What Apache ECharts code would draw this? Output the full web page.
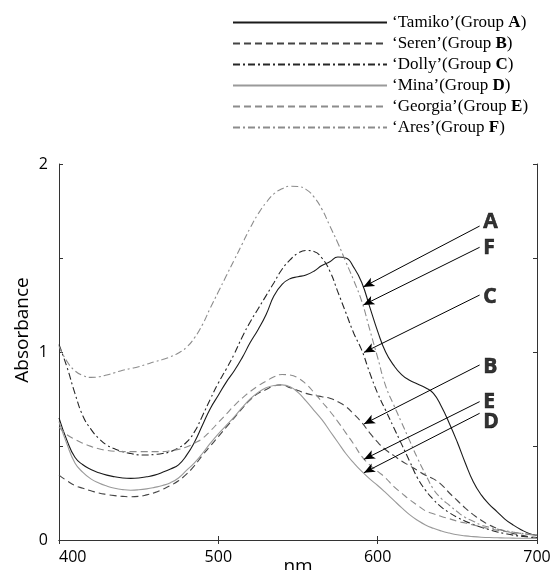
<!DOCTYPE html>
<html>
<head>
<meta charset="utf-8">
<script src="https://cdn.jsdelivr.net/npm/echarts@6/dist/echarts.min.js"></script>
<style>
html,body{margin:0;padding:0;background:#fff;}
#chart{width:553px;height:570px;}
</style>
</head>
<body>
<div id="chart"></div>
<script>
// ---- data ----
const wavelengths = [400,405,410,415,420,425,430,435,440,445,450,455,460,465,470,475,480,485,490,495,500,505,510,515,520,525,530,535,540,545,550,555,560,565,570,575,580,585,590,595,600,605,610,615,620,625,630,635,640,645,650,655,660,665,670,675,680,685,690,695,700];

const tamiko = [0.65,0.53,0.44,0.40,0.375,0.358,0.345,0.336,0.33,0.328,0.33,0.336,0.345,0.36,0.378,0.40,0.45,0.52,0.61,0.70,0.77,0.84,0.90,0.97,1.05,1.12,1.20,1.30,1.36,1.39,1.40,1.41,1.43,1.46,1.48,1.505,1.50,1.45,1.37,1.24,1.11,1.00,0.93,0.88,0.85,0.83,0.81,0.78,0.71,0.62,0.52,0.41,0.31,0.24,0.19,0.15,0.11,0.08,0.055,0.035,0.025];

const seren = [0.345,0.315,0.29,0.275,0.262,0.25,0.242,0.236,0.232,0.23,0.232,0.24,0.252,0.27,0.29,0.315,0.35,0.395,0.45,0.50,0.55,0.60,0.65,0.70,0.745,0.78,0.80,0.82,0.825,0.81,0.795,0.78,0.77,0.762,0.754,0.735,0.71,0.67,0.625,0.57,0.52,0.48,0.45,0.42,0.395,0.37,0.345,0.325,0.295,0.25,0.21,0.17,0.135,0.105,0.08,0.062,0.047,0.035,0.026,0.018,0.013];

const dolly = [1.04,0.92,0.78,0.66,0.59,0.54,0.505,0.485,0.47,0.46,0.453,0.452,0.455,0.46,0.47,0.49,0.52,0.575,0.66,0.75,0.835,0.91,0.99,1.08,1.16,1.23,1.30,1.37,1.44,1.49,1.525,1.54,1.535,1.50,1.43,1.32,1.21,1.10,1.01,0.89,0.78,0.69,0.60,0.51,0.42,0.33,0.265,0.215,0.175,0.145,0.12,0.10,0.083,0.068,0.055,0.043,0.034,0.026,0.02,0.015,0.012];

const mina = [0.63,0.51,0.41,0.36,0.325,0.303,0.287,0.275,0.268,0.265,0.267,0.272,0.28,0.29,0.305,0.33,0.37,0.41,0.46,0.515,0.565,0.61,0.655,0.705,0.75,0.785,0.81,0.822,0.825,0.815,0.785,0.74,0.69,0.64,0.58,0.52,0.46,0.41,0.365,0.325,0.29,0.252,0.212,0.172,0.135,0.105,0.08,0.062,0.048,0.037,0.028,0.022,0.018,0.015,0.013,0.012,0.011,0.01,0.009,0.009,0.008];

const georgia = [0.60,0.56,0.535,0.515,0.498,0.485,0.477,0.472,0.47,0.47,0.47,0.47,0.47,0.47,0.475,0.482,0.495,0.515,0.54,0.58,0.625,0.67,0.715,0.755,0.79,0.82,0.845,0.868,0.88,0.878,0.862,0.83,0.785,0.735,0.685,0.63,0.57,0.51,0.445,0.40,0.365,0.33,0.285,0.25,0.215,0.185,0.155,0.14,0.125,0.113,0.10,0.09,0.08,0.07,0.06,0.052,0.045,0.04,0.035,0.03,0.026];

const ares = [1.03,0.95,0.90,0.875,0.865,0.868,0.878,0.89,0.903,0.912,0.922,0.935,0.948,0.96,0.975,0.995,1.025,1.075,1.145,1.235,1.32,1.405,1.49,1.575,1.66,1.735,1.795,1.842,1.868,1.882,1.88,1.865,1.825,1.76,1.67,1.58,1.48,1.38,1.27,1.12,0.97,0.82,0.72,0.625,0.53,0.435,0.35,0.27,0.22,0.185,0.15,0.12,0.10,0.08,0.068,0.058,0.05,0.042,0.036,0.03,0.026];

const seriesNames = ['Tamiko','Seren','Dolly','Mina','Georgia','Ares'];
const groupLetters = ['A','B','C','D','E','F'];

const xTicks = [400,500,600,700];
const yTicks = [0,1,2];

// arrow annotations (data coordinates)
const annLetters = ['A','F','C','B','E','D'];
const annFromX = [664,664,664,664,664,664];
const annFromY = [1.67,1.557,1.303,0.931,0.736,0.674];
const annToX   = [591,591,591.4,591.4,591.4,591.4];
const annToY   = [1.346,1.25,0.998,0.617,0.429,0.358];
const annTextX = [666,666,666,666,666,666];
const annTextY = [1.691,1.553,1.293,0.92,0.734,0.628];

// ---- chart ----
const values = [tamiko, seren, dolly, mina, georgia, ares];
const styles = [
  {color:'#1a1a1a', type:'solid', width:1.1},
  {color:'#444444', type:[7,4], width:1.1},
  {color:'#262626', type:[7,3,2,3], width:1.1},
  {color:'#9a9a9a', type:'solid', width:1.1},
  {color:'#8c8c8c', type:[7,4], width:1.1},
  {color:'#8c8c8c', type:[7,3,2,3], width:1.1}
];

function pairs(arr){ return wavelengths.map((w,i)=>[w, arr[i]]); }

const series = seriesNames.map((n,i)=>({
  name: n,
  type: 'line',
  data: pairs(values[i]),
  smooth: true,
  symbol: 'none',
  color: styles[i].color,
  lineStyle: styles[i],
  z: 2
}));

series.push({
  name: 'arrows',
  type: 'line',
  data: [],
  symbol: 'none',
  silent: true,
  markLine: {
    silent: true,
    symbol: ['none','arrow'],
    symbolSize: [7,11],
    lineStyle: {color:'#000', type:'solid', width:1},
    label: {show:false},
    data: annLetters.map((l,i)=>[
      {coord:[annFromX[i], annFromY[i]]},
      {coord:[annToX[i], annToY[i]]}
    ])
  },
  z: 5
});

series.push({
  name: 'letters',
  type: 'scatter',
  silent: true,
  symbolSize: 1,
  itemStyle: {color: 'rgba(0,0,0,0)'},
  data: annLetters.map((l,i)=>({value:[annTextX[i], annTextY[i]], name:l})),
  label: {
    show: true,
    position: 'right',
    distance: 0,
    formatter: p => p.name,
    color: '#000',
    textBorderColor: '#000',
    textBorderWidth: 0.6,
    fontFamily: 'Open Sans',
    fontWeight: 'bold',
    fontSize: 21
  },
  z: 6
});

const chart = echarts.init(document.getElementById('chart'), null, {renderer:'canvas'});
const axisLineStyle = {color:'#333', width:1};
chart.setOption({
  animation: false,
  backgroundColor: '#fff',
  grid: {left:59, right:16, top:164, bottom:30, containLabel:false, outerBoundsMode:'none'},
  legend: {
    data: seriesNames,
    orient: 'vertical',
    left: 232,
    top: 14,
    padding: 0,
    itemWidth: 154,
    itemHeight: 14,
    itemGap: 4,
    itemStyle: {opacity: 0},
    textStyle: {
      fontFamily: 'Liberation Serif', fontSize: 17, color: '#000',
      rich: { b: {fontFamily:'Liberation Serif', fontSize:17, fontWeight:'bold', color:'#000'} }
    },
    formatter: function(name){
      const i = seriesNames.indexOf(name);
      return '\u2018' + name + '\u2019(Group {b|' + groupLetters[i] + '})';
    }
  },
  graphic: [{
    type: 'text',
    x: 23, y: 330,
    rotation: Math.PI/2,
    style: {text:'Absorbance', fontFamily:'Open Sans', fontSize:19, fill:'#000', align:'center', verticalAlign:'middle'}
  }],
  xAxis: [{
    type: 'value', min: 400, max: 700, interval: 100, position: 'bottom',
    axisLine: {show:true, lineStyle: axisLineStyle},
    axisTick: {show:true, inside:true, length:4, lineStyle: axisLineStyle},
    splitLine: {show:false},
    axisLabel: {
      color:'#000', fontFamily:'Open Sans', fontSize:16, margin:9,
      alignMinLabel:'left',
      formatter: v => xTicks.includes(v) ? String(v) : ''
    },
    name: 'nm', nameLocation: 'middle', nameGap: 17, nameMoveOverlap: false,
    nameTextStyle: {color:'#000', fontFamily:'Open Sans', fontSize:19}
  },{
    type: 'value', min: 400, max: 700, interval: 100, position: 'top',
    axisLine: {show:true, lineStyle: axisLineStyle},
    axisTick: {show:true, inside:true, length:4, lineStyle: axisLineStyle},
    axisLabel: {show:false}, splitLine: {show:false}
  }],
  yAxis: [{
    type: 'value', min: 0, max: 2, interval: 0.5, position: 'left',
    axisLine: {show:true, lineStyle: axisLineStyle},
    axisTick: {show:true, inside:true, length:4, lineStyle: axisLineStyle},
    splitLine: {show:false},
    axisLabel: {
      color:'#000', fontFamily:'Open Sans', fontSize:16, margin:11,
      formatter: v => yTicks.includes(v) ? String(v) : ''
    }
  },{
    type: 'value', min: 0, max: 2, interval: 0.5, position: 'right',
    axisLine: {show:true, lineStyle: axisLineStyle},
    axisTick: {show:true, inside:true, length:4, lineStyle: axisLineStyle},
    axisLabel: {show:false}, splitLine: {show:false}
  }],
  series: series
});
</script>
</body>
</html>
